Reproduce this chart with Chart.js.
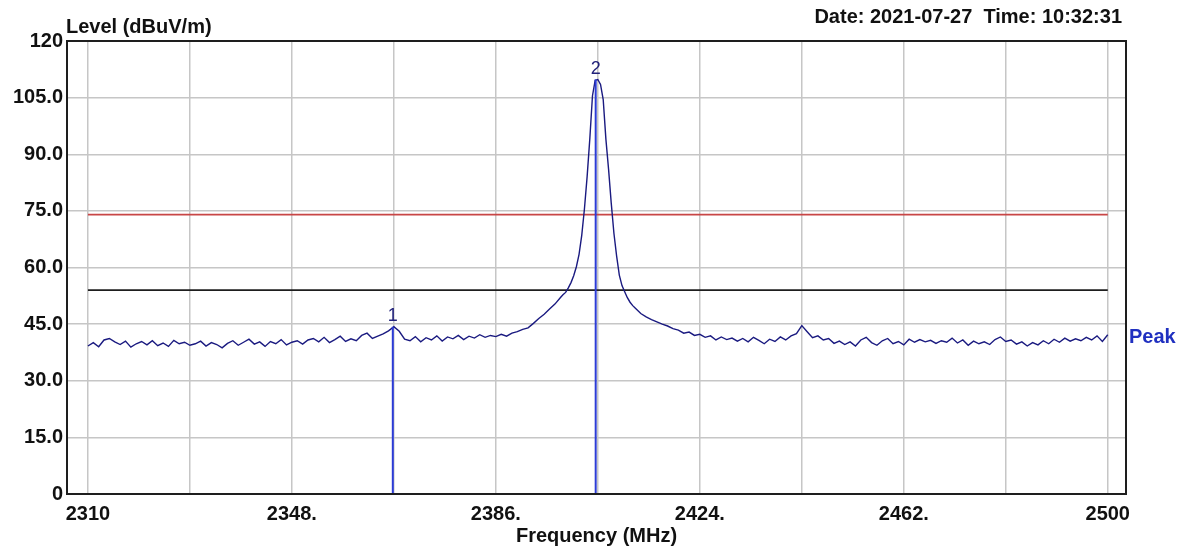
<!DOCTYPE html>
<html>
<head>
<meta charset="utf-8">
<script src="https://cdn.jsdelivr.net/npm/chart.js@4.4.1/dist/chart.umd.min.js"></script>
<style>
  html, body { margin: 0; padding: 0; background: #ffffff; }
  #wrap { width: 1186px; height: 551px; }
</style>
</head>
<body>
<div id="wrap"><canvas id="c" width="1186" height="551"></canvas></div>
<script>
// ---- data ----
const frequencies = [
  2310,2311,2312,2313,2314,2315,2316,2317,2318,2319,2320,2321,2322,2323,2324,2325,2326,2327,2328,2329,
  2330,2331,2332,2333,2334,2335,2336,2337,2338,2339,2340,2341,2342,2343,2344,2345,2346,2347,2348,
  2349,2350,2351,2352,2353,2354,2355,2356,2357,2358,2359,2360,2361,2362,2363,2364,2365,2366,2367,
  2368,2369,2370,2371,2372,2373,2374,2375,2376,2377,2378,2379,2380,2381,2382,2383,2384,2385,2386,
  2387,2388,2389,2390,2391,2392,2393,2394,2395,2396,2397,
  2398,2398.5,2399,2399.5,2400,2400.5,2401,2401.5,2402,2402.5,2403,2403.5,2404,2404.5,2405,
  2405.5,2406,2406.5,2407,2407.5,2408,2408.5,2409,2409.5,2410,2410.5,2411,2411.5,2412,
  2413,2414,2415,2416,2417,2418,2419,2420,2421,2422,2423,2424,2425,2426,2427,2428,2429,2430,2431,2432,
  2433,2434,2435,2436,2437,2438,2439,2440,2441,2442,2443,2444,2445,2446,2447,2448,2449,2450,2451,2452,
  2453,2454,2455,2456,2457,2458,2459,2460,2461,2462,2463,2464,2465,2466,2467,2468,2469,2470,2471,2472,
  2473,2474,2475,2476,2477,2478,2479,2480,2481,2482,2483,2484,2485,2486,2487,2488,2489,2490,2491,2492,
  2493,2494,2495,2496,2497,2498,2499,2500
];
const peakLevels = [
  39.2,40.1,39.0,40.8,41.2,40.3,39.6,40.5,38.9,39.8,40.4,39.5,40.6,39.3,40.0,39.1,40.7,39.8,40.2,39.4,
  39.8,40.5,39.2,40.1,39.6,38.7,39.9,40.6,39.4,40.2,41.0,39.7,40.3,39.1,40.4,39.8,40.9,39.5,40.2,
  40.6,39.7,40.8,41.2,40.3,41.5,40.1,40.9,41.8,40.4,41.1,40.6,42.0,42.6,41.2,41.8,42.4,43.2,44.3,
  43.1,41.0,40.6,41.7,40.3,41.4,40.8,41.9,40.5,41.6,41.1,42.0,40.9,41.8,41.3,42.2,41.5,42.0,41.7,
  42.3,41.8,42.6,43.0,43.6,44.0,45.2,46.5,47.6,49.0,50.3,
  52.0,52.8,53.4,54.6,56.0,57.8,60.2,63.5,68.5,75.5,84.0,94.0,105.5,109.6,109.8,
  108.5,104.5,94.0,86.0,77.0,69.0,63.0,58.0,55.2,53.6,52.0,50.8,49.9,49.2,
  47.8,46.9,46.2,45.6,45.0,44.5,43.8,43.4,42.6,42.9,42.0,42.3,41.5,41.9,40.8,41.6,40.9,41.3,40.5,41.2,
  40.3,41.5,40.7,39.8,41.0,40.4,41.6,40.8,41.9,42.5,44.6,43.0,41.4,41.9,40.8,41.2,39.9,40.5,39.6,40.3,
  39.2,40.8,41.5,40.1,39.4,40.6,41.2,39.8,40.4,39.5,41.0,40.2,40.9,40.3,40.7,39.9,40.6,40.2,41.3,40.0,
  40.8,39.4,40.5,39.8,40.3,39.6,40.9,41.6,40.4,40.8,39.7,40.3,39.2,40.1,39.5,40.6,39.8,41.0,40.2,41.3,
  40.5,41.1,40.6,41.5,40.8,41.9,40.4,42.2
];
const limitFreqs = [2310, 2500];
const limitAvg = 54;
const limitPeak = 74;
const markerNames = ['1', '2'];
const markerFreqs = [2366.8, 2404.6];
const markerLevels = [44.3, 109.8];
const xGridFreqs = [2310,2329,2348,2367,2386,2405,2424,2443,2462,2481,2500];
const xTickLabels = ['2310','','2348.','','2386.','','2424.','','2462.','','2500'];
const yGridLevels = [0,15,30,45,60,75,90,105,120];
const yTickLabels = ['0','15.0','30.0','45.0','60.0','75.0','90.0','105.0','120'];
const yTitle = 'Level (dBuV/m)';
const xTitle = 'Frequency (MHz)';
const stampText = 'Date: 2021-07-27  Time: 10:32:31';
const traceName = 'Peak';

// ---- build ----
const FONT = '"Liberation Sans", Arial, Helvetica, sans-serif';
const tracePts = frequencies.map((f, i) => ({ x: f, y: peakLevels[i] }));
const markerSets = markerFreqs.map((f, i) => ({
  label: 'Marker ' + markerNames[i],
  data: [{ x: f, y: 0 }, { x: f, y: markerLevels[i] }],
  borderColor: '#2c3cd6', borderWidth: 2, pointRadius: 0, order: 0
}));

const textPlugin = {
  id: 'texts',
  afterDraw(chart) {
    const ctx = chart.ctx, a = chart.chartArea;
    const xs = chart.scales.x, ys = chart.scales.y;
    ctx.save();
    // frame
    ctx.strokeStyle = '#1e1e1e'; ctx.lineWidth = 2;
    ctx.strokeRect(a.left, a.top, a.right - a.left, a.bottom - a.top);
    // titles
    ctx.fillStyle = '#111111';
    ctx.font = 'bold 20px ' + FONT;
    ctx.textAlign = 'left'; ctx.textBaseline = 'alphabetic';
    ctx.fillText(yTitle, a.left - 1, 33);
    ctx.textAlign = 'right';
    ctx.fillText(stampText, 1122, 23);
    ctx.textAlign = 'center';
    ctx.fillText(xTitle, (a.left + a.right) / 2, 542);
    // trace name
    ctx.fillStyle = '#2030c0';
    ctx.textAlign = 'left';
    ctx.fillText(traceName, a.right + 3, 343);
    // marker labels
    ctx.fillStyle = '#22227a';
    ctx.font = '18px ' + FONT;
    ctx.textAlign = 'center'; ctx.textBaseline = 'alphabetic';
    markerFreqs.forEach((f, i) => {
      ctx.fillText(markerNames[i], xs.getPixelForValue(f), ys.getPixelForValue(markerLevels[i]) - 6);
    });
    ctx.restore();
  }
};

new Chart(document.getElementById('c'), {
  type: 'line',
  data: {
    datasets: [
      ...markerSets,
      { label: traceName, data: tracePts, borderColor: '#1a1a80', borderWidth: 1.4, pointRadius: 0, tension: 0, order: 1 },
      { label: 'Limit ' + limitPeak, data: limitFreqs.map(f => ({ x: f, y: limitPeak })), borderColor: '#c84646', borderWidth: 1.6, pointRadius: 0, order: 2 },
      { label: 'Limit ' + limitAvg, data: limitFreqs.map(f => ({ x: f, y: limitAvg })), borderColor: '#1e1e1e', borderWidth: 1.6, pointRadius: 0, order: 2 }
    ]
  },
  options: {
    responsive: false,
    animation: false,
    devicePixelRatio: 1,
    layout: { padding: { left: 0, top: 41, right: 60, bottom: 0 } },
    plugins: { legend: { display: false }, tooltip: { enabled: false } },
    scales: {
      x: {
        type: 'linear', min: 2306.1, max: 2503.4,
        afterBuildTicks(s) { s.ticks = xGridFreqs.map(v => ({ value: v })); },
        afterFit(s) { s.height = 551 - 41 - 453 ; },
        grid: { color: '#c6c6c6', lineWidth: 1.5, drawTicks: false },
        border: { display: false },
        ticks: {
          autoSkip: false, maxRotation: 0, padding: 8, color: '#111111',
          font: { family: FONT, size: 20, weight: 'bold' },
          callback(v, i) { return xTickLabels[i]; }
        }
      },
      y: {
        type: 'linear', min: 0, max: 120,
        afterBuildTicks(s) { s.ticks = yGridLevels.map(v => ({ value: v })); },
        afterFit(s) { s.width = 67; },
        grid: { color: '#c6c6c6', lineWidth: 1.5, drawTicks: false },
        border: { display: false },
        ticks: {
          autoSkip: false, padding: 4, color: '#111111',
          font: { family: FONT, size: 20, weight: 'bold' },
          callback(v, i) { return yTickLabels[i]; }
        }
      }
    }
  },
  plugins: [textPlugin]
});
</script>
</body>
</html>
